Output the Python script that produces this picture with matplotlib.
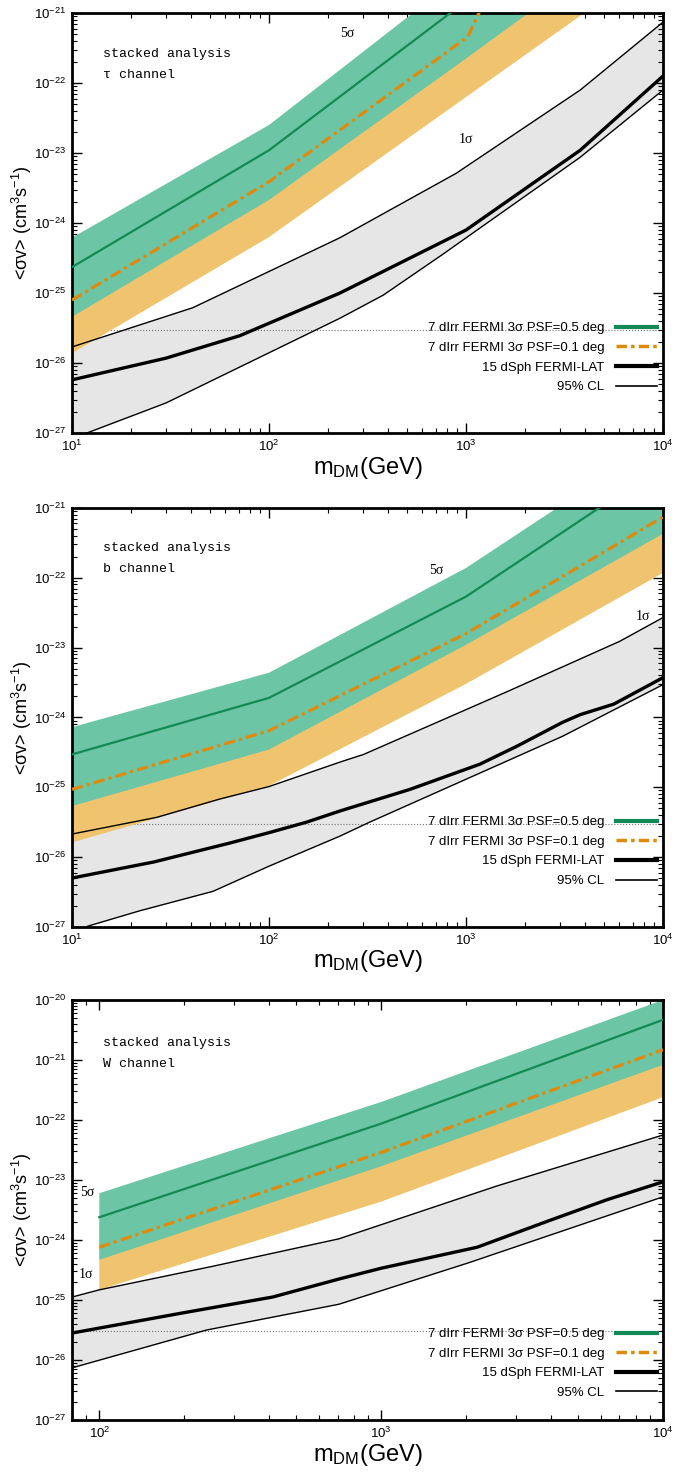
import numpy as np
import matplotlib.pyplot as plt
from matplotlib.lines import Line2D
from matplotlib.ticker import LogLocator, NullFormatter, FixedLocator

plt.rcParams['font.family'] = ['Liberation Sans', 'DejaVu Sans']
plt.rcParams['mathtext.fontset'] = 'custom'
plt.rcParams['mathtext.rm'] = 'Liberation Sans'
plt.rcParams['mathtext.it'] = 'Liberation Sans:italic'
plt.rcParams['mathtext.bf'] = 'Liberation Sans:bold'

# values: masses in GeV, <sigma v> given as log10(cm^3 s^-1)

# ---- tau channel ----
tau_dirr_m = [10, 100, 1000, 10000]
tau_g5 = [-24.63, -22.96, -20.83, -18.70]
tau_g5_up = [-24.21, -22.60, -20.41, -18.20]
tau_g5_lo = [-25.34, -23.67, -21.65, -19.60]
tau_o1_m = [10, 100, 1020, 1150, 1300]
tau_o1 = [-25.10, -23.41, -21.34, -21.03, -20.70]
tau_o1_up = [-24.70, -23.00, -20.90, -20.60, -20.30]
tau_o1_lo_m = [10, 100, 1000, 10000]
tau_o1_lo = [-25.86, -24.20, -22.20, -20.20]
tau_dsph_m = [10, 30, 71, 229, 1000, 3800, 10000]
tau_dsph = [-26.24, -25.93, -25.61, -25.00, -24.10, -22.96, -21.90]
tau_up_m = [10, 41, 229, 891, 3800, 10000]
tau_up = [-25.77, -25.21, -24.21, -23.29, -22.10, -21.13]
tau_lo_m = [10, 30, 229, 380, 759, 3800, 10000]
tau_lo = [-27.08, -26.57, -25.36, -25.03, -24.45, -23.06, -22.10]

# ---- b channel ----
b_dirr_m = [10, 100, 1000, 10000]
b_g5 = [-24.53, -23.72, -22.27, -20.39]
b_g5_up = [-24.14, -23.36, -21.86, -20.00]
b_g5_lo = [-25.27, -24.46, -22.96, -21.37]
b_o1 = [-25.03, -24.19, -22.80, -21.13]
b_o1_up = [-24.60, -23.80, -22.40, -20.70]
b_o1_lo = [-25.79, -24.98, -23.52, -21.93]
b_dsph_m = [10, 26, 63, 100, 155, 229, 520, 1175, 1820, 3090, 3800, 5620, 10000]
b_dsph = [-26.30, -26.07, -25.80, -25.65, -25.50, -25.34, -25.03, -24.67, -24.41,
          -24.07, -23.96, -23.81, -23.43]
b_up_m = [10, 27, 56, 100, 229, 302, 1620, 6030, 10000]
b_up = [-25.67, -25.43, -25.17, -24.99, -24.64, -24.53, -23.63, -22.91, -22.57]
b_lo_m = [10, 12, 22, 52, 100, 229, 324, 3090, 10000]
b_lo = [-27.10, -26.99, -26.77, -26.49, -26.13, -25.70, -25.50, -24.27, -23.53]

# ---- W channel ----
w_dirr_m = [100, 1000, 10000]
w_g5 = [-23.62, -22.06, -20.33]
w_g5_up = [-23.22, -21.70, -20.00]
w_g5_lo = [-24.33, -22.77, -21.08]
w_o1 = [-24.12, -22.54, -20.83]
w_o1_up = [-23.70, -22.10, -20.40]
w_o1_lo = [-24.83, -23.36, -21.62]
w_dsph_m = [80, 200, 412, 708, 1000, 2190, 3980, 6310, 10000]
w_dsph = [-25.55, -25.21, -24.95, -24.65, -24.47, -24.12, -23.67, -23.33, -23.03]
w_up_m = [80, 100, 251, 708, 2570, 10000]
w_up = [-24.95, -24.83, -24.44, -23.98, -23.10, -22.25]
w_lo_m = [80, 240, 708, 2040, 10000]
w_lo = [-26.13, -25.50, -25.07, -24.38, -23.28]

relic = 3e-26

legend_labels = ['7 dIrr FERMI 3σ PSF=0.5 deg', '7 dIrr FERMI 3σ PSF=0.1 deg',
                 '15 dSph FERMI-LAT', '95% CL']

GREEN_FILL = '#6cc5a5'
GREEN_LINE = '#138a55'
ORANGE_FILL = '#f0c46e'
ORANGE_LINE = '#e08a0c'
GRAY_FILL = '#e6e6e6'
DASHDOT = (3.5, 1.3, 1.0, 1.3)


def p(v):
    return 10.0 ** np.asarray(v)


def band(ax, xu, yu, xl, yl, color, z):
    ax.fill(np.r_[xu, xl[::-1]], np.r_[p(yu), p(yl)[::-1]], color=color, lw=0, zorder=z)


def panel(ax, d, xlim, ylim, channel, s5, s1, leg_y):
    band(ax, np.array(d['cl_up_m']), d['cl_up'], np.array(d['cl_lo_m']), d['cl_lo'], GRAY_FILL, 1)
    ax.axhline(relic, color='#777777', ls=':', lw=0.8, zorder=1.5)
    band(ax, np.array(d['o_up_m']), d['o_up'], np.array(d['o_lo_m']), d['o_lo'], ORANGE_FILL, 2)
    band(ax, np.array(d['g_m']), d['g_up'], np.array(d['g_m']), d['g_lo'], GREEN_FILL, 2.5)
    ax.plot(d['cl_up_m'], p(d['cl_up']), color='k', lw=1.0, zorder=3)
    ax.plot(d['cl_lo_m'], p(d['cl_lo']), color='k', lw=1.0, zorder=3)
    ax.plot(d['dsph_m'], p(d['dsph']), color='k', lw=2.4, zorder=3.5)
    ax.plot(d['g_m'], p(d['g']), color=GREEN_LINE, lw=1.6, zorder=4)
    ax.plot(d['o_m'], p(d['o']), color=ORANGE_LINE, lw=2.3, dashes=DASHDOT, zorder=4.5)

    ax.set_xscale('log')
    ax.set_yscale('log')
    ax.set_xlim(*xlim)
    ax.set_ylim(*ylim)
    lo, hi = np.log10(ylim)
    ax.yaxis.set_major_locator(FixedLocator(10.0 ** np.arange(lo, hi + 1)))
    xd = np.arange(np.ceil(np.log10(xlim[0])), np.log10(xlim[1]) + 1)
    ax.xaxis.set_major_locator(FixedLocator(10.0 ** xd))
    ax.yaxis.set_minor_locator(LogLocator(base=10, subs=np.arange(2, 10), numticks=20))
    ax.xaxis.set_minor_locator(LogLocator(base=10, subs=np.arange(2, 10), numticks=20))
    ax.xaxis.set_minor_formatter(NullFormatter())
    ax.yaxis.set_minor_formatter(NullFormatter())
    ax.tick_params(which='both', direction='in', top=True, right=True, labelsize=9.5)
    ax.tick_params(which='major', length=7, width=1.0, pad=4)
    ax.tick_params(which='minor', length=3.5, width=0.8)
    for s in ax.spines.values():
        s.set_linewidth(2.0)

    ax.set_xlabel(r'm$_{\rm DM}$(GeV)', fontsize=17, va='center')
    ax.xaxis.set_label_coords(0.5, -0.082)
    ax.set_ylabel(r'<σv> (cm$^3$s$^{-1}$)', fontsize=13, va='center')
    ax.yaxis.set_label_coords(-0.085, 0.5)

    mono = ['Liberation Mono', 'DejaVu Sans Mono']
    ax.text(0.052, channel[1], 'stacked analysis', transform=ax.transAxes,
            family=mono, fontsize=9.5, va='center')
    ax.text(0.052, channel[1] - 0.05, channel[0], transform=ax.transAxes,
            family=mono, fontsize=9.5, va='center')
    serif = ['Liberation Serif', 'DejaVu Serif']
    ax.text(s5[0], s5[1], '5σ', family=serif, fontsize=10, ha='center', va='center')
    ax.text(s1[0], s1[1], '1σ', family=serif, fontsize=10, ha='center', va='center')

    handles = [Line2D([], [], color=GREEN_LINE, lw=3.0),
               Line2D([], [], color=ORANGE_LINE, lw=2.5, dashes=(3.0, 1.2, 1.0, 1.2)),
               Line2D([], [], color='k', lw=3.0),
               Line2D([], [], color='k', lw=1.2)]
    ax.legend(handles, legend_labels, loc='lower right', bbox_to_anchor=(0.99, leg_y),
              frameon=False, markerfirst=False, fontsize=9.5, handlelength=3.1,
              handletextpad=0.9, labelspacing=0.56, borderpad=0, borderaxespad=0)


fig = plt.figure(figsize=(6.75, 14.76), dpi=100)
ax1 = fig.add_axes([0.1067, 0.7066, 0.8756, 0.2846])
ax2 = fig.add_axes([0.1067, 0.3720, 0.8756, 0.2839])
ax3 = fig.add_axes([0.1067, 0.0379, 0.8756, 0.2846])

tau = dict(g_m=tau_dirr_m, g=tau_g5, g_up=tau_g5_up, g_lo=tau_g5_lo,
           o_m=tau_o1_m, o=tau_o1, o_up_m=tau_o1_m, o_up=tau_o1_up,
           o_lo_m=tau_o1_lo_m, o_lo=tau_o1_lo,
           dsph_m=tau_dsph_m, dsph=tau_dsph,
           cl_up_m=tau_up_m, cl_up=tau_up, cl_lo_m=tau_lo_m, cl_lo=tau_lo)
bb = dict(g_m=b_dirr_m, g=b_g5, g_up=b_g5_up, g_lo=b_g5_lo,
          o_m=b_dirr_m, o=b_o1, o_up_m=b_dirr_m, o_up=b_o1_up,
          o_lo_m=b_dirr_m, o_lo=b_o1_lo,
          dsph_m=b_dsph_m, dsph=b_dsph,
          cl_up_m=b_up_m, cl_up=b_up, cl_lo_m=b_lo_m, cl_lo=b_lo)
ww = dict(g_m=w_dirr_m, g=w_g5, g_up=w_g5_up, g_lo=w_g5_lo,
          o_m=w_dirr_m, o=w_o1, o_up_m=w_dirr_m, o_up=w_o1_up,
          o_lo_m=w_dirr_m, o_lo=w_o1_lo,
          dsph_m=w_dsph_m, dsph=w_dsph,
          cl_up_m=w_up_m, cl_up=w_up, cl_lo_m=w_lo_m, cl_lo=w_lo)

panel(ax1, tau, (10, 1e4), (1e-27, 1e-21), ('τ channel', 0.902),
      (251, 10 ** -21.3), (1000, 10 ** -22.81), 0.095)
panel(ax2, bb, (10, 1e4), (1e-27, 1e-21), ('b channel', 0.905),
      (708, 10 ** -21.89), (7940, 10 ** -22.56), 0.095)
panel(ax3, ww, (80, 1e4), (1e-27, 1e-20), ('W channel', 0.898),
      (90.6, 10 ** -23.2), (90, 10 ** -24.58), 0.05)

fig.savefig('out.png', dpi=100)
